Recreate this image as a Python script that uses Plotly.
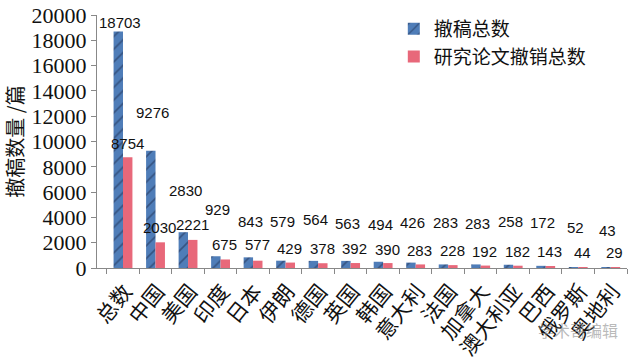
import plotly.graph_objects as go

categories = ["总数", "中国", "美国", "印度", "日本", "伊朗", "德国", "英国",
              "韩国", "意大利", "法国", "加拿大", "澳大利亚", "巴西", "俄罗斯", "奥地利"]
retractions_total = [18703, 9276, 2830, 929, 843, 579, 564, 563, 494, 426, 283, 283, 258, 172, 52, 43]
research_retractions = [8754, 2030, 2221, 675, 577, 429, 378, 392, 390, 283, 228, 192, 182, 143, 44, 29]
# heights (in data units) where the value labels sit in the original
blue_label_y = [19370, 12330, 6090, 4660, 3640, 3640, 3800, 3480, 3400, 3560, 3560, 3480, 3640, 3560, 3240, 3000]
red_label_y = [9880, 3240, 3400, 1820, 1820, 1580, 1580, 1580, 1500, 1420, 1420, 1340, 1340, 1300, 1260, 1190]
y_ticks = [0, 2000, 4000, 6000, 8000, 10000, 12000, 14000, 16000, 18000, 20000]

BLUE = "#4F7DB8"
HATCH = "#1C2A4A"
RED = "#E8687A"
CJK = "Noto Sans CJK SC"
SERIF = "Liberation Serif"

fig = go.Figure()
fig.add_trace(go.Bar(
    x=categories, y=retractions_total, name="撤稿总数",
    marker=dict(color=BLUE, line=dict(width=0),
                pattern=dict(shape="/", fgcolor=HATCH, bgcolor=BLUE, size=9, solidity=0.18)),
))
fig.add_trace(go.Bar(
    x=categories, y=research_retractions, name="研究论文撤销总数",
    marker=dict(color=RED, line=dict(width=0)),
))

annotations = []
for c, v, ly in zip(categories, retractions_total, blue_label_y):
    annotations.append(dict(x=c, y=ly, xref="x", yref="y", text=str(v), showarrow=False,
                            xshift=-3, yanchor="middle",
                            font=dict(family="Liberation Sans", size=15, color="#111")))
for c, v, ly in zip(categories, research_retractions, red_label_y):
    annotations.append(dict(x=c, y=ly, xref="x", yref="y", text=str(v), showarrow=False,
                            xshift=4, yanchor="middle",
                            font=dict(family="Liberation Sans", size=15, color="#111")))
annotations.append(dict(x=0.987, y=-0.245, xref="paper", yref="paper", xanchor="right", yanchor="middle",
                        text="学术哥编辑", showarrow=False,
                        font=dict(family=CJK, size=16, color="rgba(140,140,140,0.6)")))

fig.update_layout(
    width=640, height=364,
    margin=dict(l=97, r=13, t=15, b=96, autoexpand=False),
    paper_bgcolor="white", plot_bgcolor="white",
    barmode="group", bargap=0.42, bargroupgap=0,
    showlegend=True,
    legend=dict(x=0.56, y=1.02, xanchor="left", yanchor="top",
                font=dict(family=CJK, size=19, color="#111"),
                bgcolor="rgba(0,0,0,0)", tracegroupgap=0),
    annotations=annotations,
    font=dict(family=CJK, color="#111"),
)
fig.update_yaxes(
    range=[0, 20000], tickvals=y_ticks, ticktext=[str(t) for t in y_ticks],
    automargin=False,
    showgrid=False, zeroline=False,
    showline=True, linecolor="#888", linewidth=1,
    ticks="outside", ticklen=5, tickcolor="#888",
    tickfont=dict(family=SERIF, size=22, color="#111"),
    title=dict(text="撤稿数量 /篇", font=dict(family=CJK, size=20, color="#111"), standoff=8),
)
fig.update_xaxes(
    type="category", tickangle=-51, automargin=False,
    showgrid=False, showline=True, linecolor="#888", linewidth=1,
    ticks="outside", ticklen=5, tickcolor="#888", tickson="boundaries",
    ticklabelshift=2, ticklabelstandoff=2,
    tickfont=dict(family=CJK, size=21, color="#111"),
)

fig.write_html("out.html", config={"displayModeBar": False},
               post_script="document.body.style.margin='0px';")
